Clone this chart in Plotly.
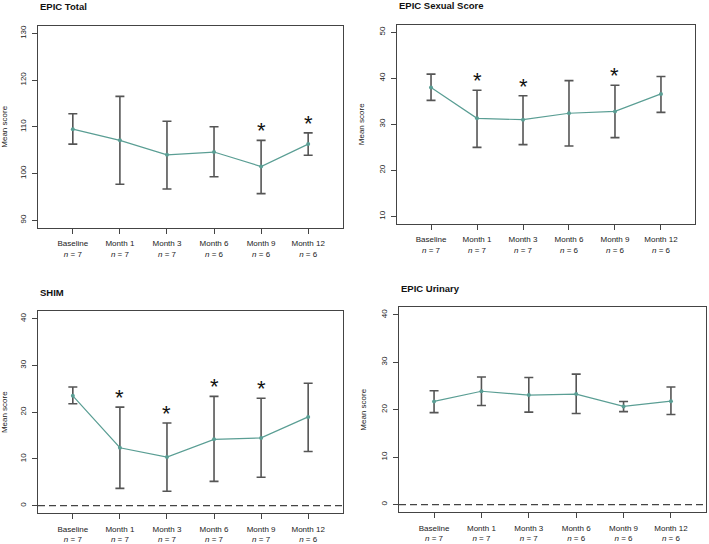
import plotly.graph_objects as go

timepoints = ["Baseline", "Month 1", "Month 3", "Month 6", "Month 9", "Month 12"]

total_mean = [109.5, 107.1, 104.0, 104.6, 101.5, 106.3]
total_upper = [112.8, 116.5, 111.2, 110.0, 107.1, 108.7]
total_lower = [106.3, 97.7, 96.7, 99.3, 95.7, 103.9]
total_n = [7, 7, 7, 6, 6, 6]
total_sig = [False, False, False, False, True, True]

sexual_mean = [38.0, 31.3, 31.0, 32.4, 32.8, 36.6]
sexual_upper = [40.9, 37.4, 36.2, 39.5, 38.5, 40.4]
sexual_lower = [35.2, 25.0, 25.6, 25.3, 27.1, 32.6]
sexual_n = [7, 7, 7, 6, 6, 6]
sexual_sig = [False, True, True, False, True, False]

shim_mean = [23.5, 12.4, 10.4, 14.2, 14.5, 19.0]
shim_upper = [25.4, 21.1, 17.7, 23.4, 23.0, 26.2]
shim_lower = [21.8, 3.7, 3.1, 5.2, 6.1, 11.6]
shim_n = [7, 7, 7, 7, 7, 6]
shim_sig = [False, True, True, True, True, False]

urinary_mean = [21.75, 23.9, 23.1, 23.3, 20.7, 21.8]
urinary_upper = [24.0, 26.9, 26.8, 27.5, 21.75, 24.8]
urinary_lower = [19.4, 20.9, 19.5, 19.2, 19.6, 19.0]
urinary_n = [7, 7, 7, 6, 6, 6]
urinary_sig = [False, False, False, False, False, False]

panels = [
    dict(title="EPIC Total", mean=total_mean, up=total_upper, lo=total_lower, n=total_n, sig=total_sig,
         yticks=[90, 100, 110, 120, 130], yr=[88.4, 131.6], dom_x=[38, 343], dom_y=[25, 228], zero=False),
    dict(title="EPIC Sexual Score", mean=sexual_mean, up=sexual_upper, lo=sexual_lower, n=sexual_n, sig=sexual_sig,
         yticks=[10, 20, 30, 40, 50], yr=[8.4, 51.6], dom_x=[397, 695], dom_y=[24, 224], zero=False),
    dict(title="SHIM", mean=shim_mean, up=shim_upper, lo=shim_lower, n=shim_n, sig=shim_sig,
         yticks=[0, 10, 20, 30, 40], yr=[-1.6, 41.6], dom_x=[38, 343], dom_y=[312, 515], zero=True),
    dict(title="EPIC Urinary", mean=urinary_mean, up=urinary_upper, lo=urinary_lower, n=urinary_n, sig=urinary_sig,
         yticks=[0, 10, 20, 30, 40], yr=[-1.6, 41.6], dom_x=[399, 706], dom_y=[308, 514], zero=True),
]

W, H = 709, 544
LINE = "#5a9e94"
BAR = "#555555"
FONT = "Liberation Sans, Arial, sans-serif"

fig = go.Figure()
layout = dict(width=W, height=H, margin=dict(l=0, r=0, t=0, b=0), paper_bgcolor="white",
              plot_bgcolor="white", showlegend=False, font=dict(family=FONT, color="#222", size=8))
annotations = []
shapes = []
xpos = list(range(len(timepoints)))

for i, p in enumerate(panels, start=1):
    xa = "x" if i == 1 else f"x{i}"
    ya = "y" if i == 1 else f"y{i}"
    fig.add_trace(go.Scatter(
        x=xpos, y=p["mean"], mode="lines+markers", xaxis=xa, yaxis=ya,
        line=dict(color=LINE, width=1.2), marker=dict(color=LINE, size=4),
        error_y=dict(type="data", symmetric=False,
                     array=[u - m for u, m in zip(p["up"], p["mean"])],
                     arrayminus=[m - l for m, l in zip(p["mean"], p["lo"])],
                     color=BAR, thickness=1.6, width=4.5),
    ))
    ticktext = [f"{t}<br><i>n</i> = {n}" for t, n in zip(timepoints, p["n"])]
    dx = [p["dom_x"][0] / W, p["dom_x"][1] / W]
    dy = [1 - p["dom_y"][1] / H, 1 - p["dom_y"][0] / H]
    layout["xaxis" if i == 1 else f"xaxis{i}"] = dict(
        domain=dx, range=[-0.74, 5.74], tickvals=xpos, ticktext=ticktext, ticks="outside",
        ticklen=5, tickcolor="#444", showline=True, linecolor="#444", linewidth=1, mirror=True,
        showgrid=False, zeroline=False, anchor=ya, tickfont=dict(size=8), ticklabelstandoff=3,
        fixedrange=True)
    layout["yaxis" if i == 1 else f"yaxis{i}"] = dict(
        domain=dy, range=p["yr"], tickvals=p["yticks"], ticks="outside", ticklen=5, tickcolor="#444",
        tickangle=-90, showline=True, linecolor="#444", linewidth=1, mirror=True, showgrid=False,
        zeroline=False, anchor=xa, tickfont=dict(size=8), ticklabelstandoff=3,
        title=dict(text="Mean score", font=dict(size=8), standoff=11))
    annotations.append(dict(text=f"<b>{p['title']}</b>", xref="paper", yref="paper",
                            x=dx[0], y=1 - (p["dom_y"][0] - 19) / H, xanchor="left", yanchor="middle",
                            showarrow=False, font=dict(size=9.5, color="#111")))
    for j, s in enumerate(p["sig"]):
        if s:
            annotations.append(dict(text="*", x=xpos[j], y=p["up"][j], xref=xa, yref=ya,
                                    xanchor="center", yanchor="bottom", yshift=-5, showarrow=False,
                                    font=dict(size=22, color="#111")))
    if p["zero"]:
        shapes.append(dict(type="line", xref=f"{xa} domain", yref=ya, x0=0, x1=1, y0=0, y1=0,
                           line=dict(color="#444", width=1.2, dash="7px,4px")))

layout["annotations"] = annotations
layout["shapes"] = shapes
fig.update_layout(**layout)
fig.write_html("out.html", config={"displayModeBar": False},
               post_script="document.body.style.margin='0';document.body.style.overflow='hidden';")
